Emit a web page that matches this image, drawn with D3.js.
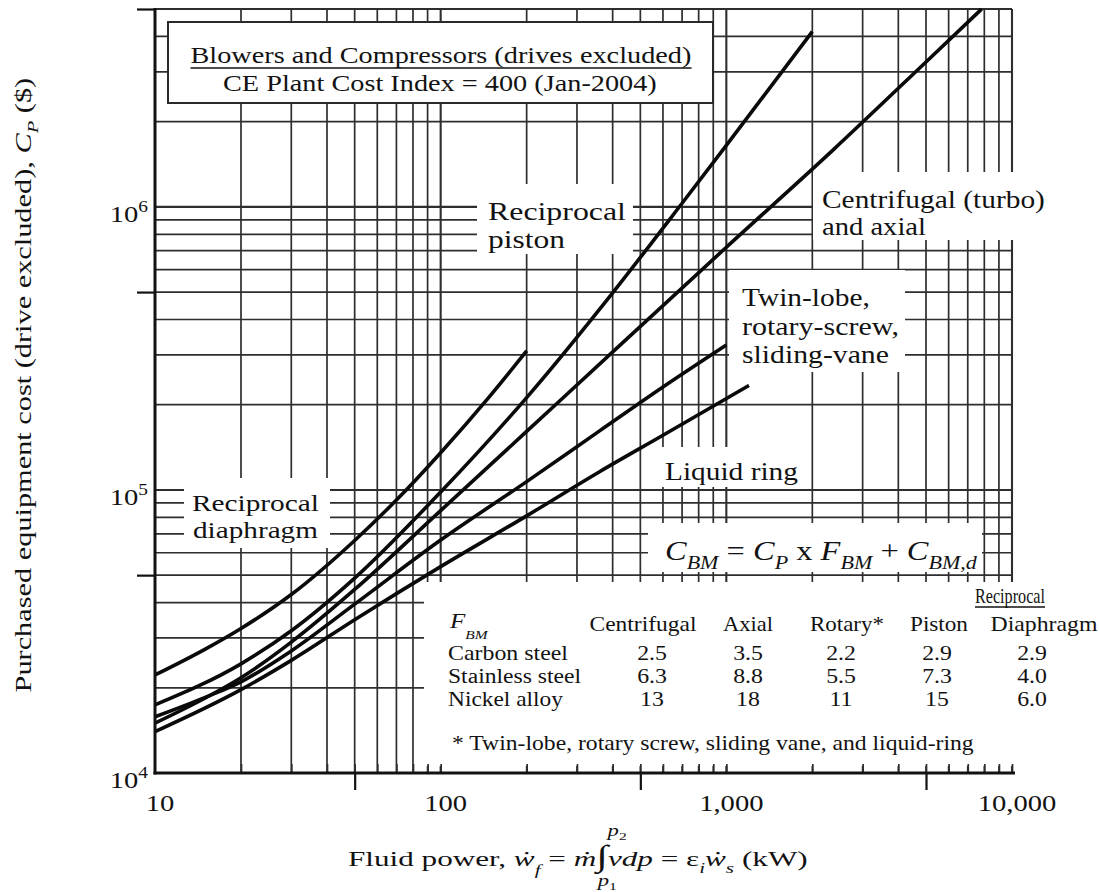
<!DOCTYPE html>
<html><head><meta charset="utf-8">
<script src="https://cdn.jsdelivr.net/npm/d3@7"></script>
<style>html,body{margin:0;padding:0;background:#fff;} svg{display:block;}</style>
</head><body>
<svg id="chart" width="1099" height="892"></svg>
<script>
// ---------------- data ----------------
const diaphragmKW     = [10, 15, 20, 30, 50, 70, 100, 150, 200];
const diaphragmCost   = [22200, 27400, 32400, 42700, 66300, 92100, 135400, 216800, 309700];
const pistonKW        = [10, 20, 30, 50, 100, 200, 400, 700, 1000, 2000];
const pistonCost      = [17400, 24300, 31800, 48800, 98300, 212000, 497000, 1030000, 1650000, 4160000];
const centrifugalKW   = [10, 15, 20, 30, 50, 100, 262, 1000, 2366, 5000, 7830];
const centrifugalCost = [15000, 18400, 21700, 29000, 44500, 84500, 207000, 720000, 1590000, 3250000, 5000000];
const rotaryKW        = [10, 15, 20, 30, 50, 100, 200, 361, 600, 1000];
const rotaryCost      = [15800, 18500, 21000, 27000, 39500, 66500, 107000, 162000, 231000, 325000];
const liquidRingKW    = [10, 20, 30, 50, 100, 200, 360, 600, 1200];
const liquidRingCost  = [14000, 19700, 25000, 34800, 53600, 81000, 116000, 156000, 234000];

const xTickValues = [10, 100, 1000, 10000];
const xTickLabels = ["10", "100", "1,000", "10,000"];
const yTickValues = [1e4, 1e5, 1e6];
const yTickExps   = ["4", "5", "6"];

const tableColumns   = ["Centrifugal", "Axial", "Rotary*", "Piston", "Diaphragm"];
const tableRows      = ["Carbon steel", "Stainless steel", "Nickel alloy"];
const fbmCarbon      = ["2.5", "3.5", "2.2", "2.9", "2.9"];
const fbmStainless   = ["6.3", "8.8", "5.5", "7.3", "4.0"];
const fbmNickel      = ["13", "18", "11", "15", "6.0"];

// ---------------- setup ----------------
const svg = d3.select('#chart');
const x = d3.scaleLog().domain([10, 10000]).range([155, 1012]);
const y = d3.scaleLog().domain([1e4, 5e6]).range([773, 9]);
const SERIF = 'Liberation Serif, Times New Roman, Times, serif';
const INK = '#121212', GRID = '#2e2e2e';

svg.append('rect').attr('width', 1099).attr('height', 892).attr('fill', '#fff');

function addText(parent, x0, y0, parts, o = {}) {
  const size = o.size || 20, anchor = o.anchor || 'start';
  const g = parent.append('g').attr('transform', `translate(${x0},${y0})` + (o.rotate ? ` rotate(${o.rotate})` : ''));
  const inner = g.append('g');
  const t = inner.append('text').attr('font-family', SERIF).attr('font-size', size).attr('fill', INK);
  if (o.italic) t.attr('font-style', 'italic');
  let shift = 0;
  (Array.isArray(parts) ? parts : [parts]).forEach(p => {
    if (typeof p === 'string') p = { t: p };
    const ts = t.append('tspan').text(p.t);
    if (p.italic) ts.attr('font-style', 'italic');
    const fs = p.size || ((p.sub || p.sup) ? size * 0.68 : null);
    if (fs) ts.attr('font-size', fs);
    const target = p.sub ? size * (p.subDy || 0.32) : p.sup ? -size * 0.42 : 0;
    if (target !== shift) { ts.attr('dy', target - shift); shift = target; }
  });
  const w = t.node().getComputedTextLength();
  const s = o.fit ? o.fit / w : (o.sx || 1.19);
  const dx = anchor === 'middle' ? -w / 2 : anchor === 'end' ? -w : 0;
  t.attr('x', dx);
  inner.attr('transform', `scale(${s},1)`);
  if (o.underline) {
    inner.append('line').attr('x1', dx).attr('x2', dx + w)
      .attr('y1', o.underline).attr('y2', o.underline)
      .attr('stroke', INK).attr('stroke-width', 1.5);
  }
  return { t, inner, w, s, dx };
}

// ---------------- grid ----------------
const gridX = [];
[10, 100, 1000].forEach(d => { for (let k = 2; k <= 10; k++) gridX.push(d * k); });
const gridY = [];
[1e4, 1e5, 1e6].forEach(d => { for (let k = 2; k <= 10; k++) { const v = d * k; if (v <= 5e6) gridY.push(v); } });
const majorX = new Set([100, 1000, 10000]);
const majorY = new Set([1e5, 1e6, 5e6]);

const grid = svg.append('g');
grid.selectAll('line.gx').data(gridX).join('line')
  .attr('x1', d => x(d)).attr('x2', d => x(d))
  .attr('y1', y(5e6)).attr('y2', y(1e4))
  .attr('stroke', GRID).attr('stroke-width', d => majorX.has(d) ? 2.1 : 1.7);
grid.selectAll('line.gy').data(gridY).join('line')
  .attr('x1', x(10)).attr('x2', x(10000))
  .attr('y1', d => y(d)).attr('y2', d => y(d))
  .attr('stroke', GRID).attr('stroke-width', d => majorY.has(d) ? 2.1 : 1.7);

// white areas where the original grid is interrupted by labels / table
const masks = [
  [477, 184, 633, 254],   // Reciprocal piston
  [813, 172, 1056, 240],  // Centrifugal (turbo) and axial
  [729, 270, 905, 372],   // Twin-lobe ...
  [660, 447, 806, 487],   // Liquid ring
  [184, 478, 330, 548],   // Reciprocal diaphragm
  [648, 523, 982, 572],   // formula
  [424, 582, 1099, 766]   // F_BM table
];
svg.append('g').selectAll('rect').data(masks).join('rect')
  .attr('x', d => d[0]).attr('y', d => d[1])
  .attr('width', d => d[2] - d[0]).attr('height', d => d[3] - d[1])
  .attr('fill', '#fff');

// ---------------- curves ----------------
const series = [
  [diaphragmKW, diaphragmCost],
  [pistonKW, pistonCost],
  [centrifugalKW, centrifugalCost],
  [rotaryKW, rotaryCost],
  [liquidRingKW, liquidRingCost]
];
const line = d3.line().x(d => x(d[0])).y(d => y(d[1])).curve(d3.curveMonotoneX);
svg.append('g').selectAll('path').data(series.map(s => s[0].map((v, i) => [v, s[1][i]])))
  .join('path').attr('d', line)
  .attr('fill', 'none').attr('stroke', '#0a0a0a').attr('stroke-width', 3.6)
  .attr('stroke-linecap', 'butt');

// ---------------- axes ----------------
const ax = svg.append('g');
ax.append('g').attr('transform', `translate(0,${y(1e4)})`)
  .call(d3.axisBottom(x).tickValues(gridX).tickSize(-9).tickFormat(''))
  .call(g => g.select('.domain').remove())
  .call(g => g.selectAll('line').attr('stroke', GRID).attr('stroke-width', 1.7));
ax.append('g').attr('transform', `translate(0,${y(1e4)})`)
  .call(d3.axisBottom(x).tickValues([50, 500, 5000]).tickSize(17).tickFormat(''))
  .call(g => g.select('.domain').remove())
  .call(g => g.selectAll('line').attr('stroke', INK).attr('stroke-width', 2.2));
ax.append('g').attr('transform', `translate(${x(10)},0)`)
  .call(d3.axisLeft(y).tickValues([5e4, 5e5, 5e6]).tickSize(18).tickFormat(''))
  .call(g => g.select('.domain').remove())
  .call(g => g.selectAll('line').attr('stroke', INK).attr('stroke-width', 2.2));
ax.append('line').attr('x1', x(10)).attr('x2', x(10)).attr('y1', y(5e6) - 1).attr('y2', y(1e4) + 1.4)
  .attr('stroke', INK).attr('stroke-width', 3);
ax.append('line').attr('x1', x(10) - 1.5).attr('x2', x(10000) + 3).attr('y1', y(1e4)).attr('y2', y(1e4))
  .attr('stroke', INK).attr('stroke-width', 3);

// tick labels
xTickValues.forEach((v, i) => addText(svg, x(v) + 5, 811, xTickLabels[i], { size: 24, anchor: 'middle' }));
yTickValues.forEach((v, i) => addText(svg, 148, y(v) + 15, ["10", { t: yTickExps[i], sup: true }], { size: 24, anchor: 'end' }));

// axis titles
addText(svg, 31, 385, ["Purchased equipment cost (drive excluded), ", { t: "C", italic: true }, { t: "P", italic: true, sub: true }, " ($)"],
  { size: 23, anchor: 'middle', rotate: -90, fit: 615 });
const xt = addText(svg, 578, 866, ["Fluid power, ", { t: "ẇ", italic: true }, { t: "f", italic: true, sub: true, subDy: 0.4 }, " = ",
  { t: "ṁ", italic: true }, { t: "∫", size: 30 }, { t: "vdp", italic: true }, " = ε", { t: "i", italic: true, sub: true },
  { t: "ẇ", italic: true }, { t: "s", italic: true, sub: true }, " (kW)"], { size: 22, anchor: 'middle', fit: 460 });
{
  const p = xt.t.node().getStartPositionOfChar(19);
  const lim = (str, dx, dy) => {
    const tt = xt.inner.append('text').attr('x', p.x + dx).attr('y', dy).attr('font-family', SERIF)
      .attr('font-size', 16).attr('fill', INK);
    tt.append('tspan').attr('font-style', 'italic').text('p');
    tt.append('tspan').attr('font-size', 11).attr('dy', 4).text(str);
  };
  lim('2', 8, -30);
  lim('1', 1, 20);
}

// ---------------- title box ----------------
svg.append('rect').attr('x', 168).attr('y', 22).attr('width', 713 - 168).attr('height', 103 - 22)
  .attr('fill', '#fff').attr('stroke', '#2a2a2a').attr('stroke-width', 2);
addText(svg, 441, 63, "Blowers and Compressors (drives excluded)", { size: 24, anchor: 'middle', fit: 501, underline: 5 });
addText(svg, 440, 91, "CE Plant Cost Index = 400 (Jan-2004)", { size: 24, anchor: 'middle', fit: 434 });

// ---------------- curve labels ----------------
addText(svg, 488, 220, "Reciprocal", { size: 25, fit: 138 });
addText(svg, 488, 248, "piston", { size: 25, fit: 77 });
addText(svg, 822, 208, "Centrifugal (turbo)", { size: 25, fit: 223 });
addText(svg, 822, 235, "and axial", { size: 25, fit: 104 });
addText(svg, 742, 306, "Twin-lobe,", { size: 25, fit: 128 });
addText(svg, 742, 335, "rotary-screw,", { size: 25, fit: 157 });
addText(svg, 742, 363, "sliding-vane", { size: 25, fit: 147 });
addText(svg, 665, 480, "Liquid ring", { size: 25, fit: 133 });
addText(svg, 192, 511, "Reciprocal", { size: 24, fit: 127 });
addText(svg, 193, 538, "diaphragm", { size: 24, fit: 125 });

// ---------------- formula ----------------
addText(svg, 665, 560, [{ t: "C", italic: true }, { t: "BM", italic: true, sub: true }, " = ", { t: "C", italic: true },
  { t: "P", italic: true, sub: true }, "  x ", { t: "F", italic: true }, { t: "BM", italic: true, sub: true }, " + ",
  { t: "C", italic: true }, { t: "BM,d", italic: true, sub: true }], { size: 27, fit: 312 });

// ---------------- F_BM table ----------------
const colCenters = [643, 748, 847, 939, 1044];
const valCenters = [652, 748, 841, 937, 1032];
const colWidths = [107, 50, 74, 58, 107];
addText(svg, 1010, 603, "Reciprocal", { size: 20, anchor: 'middle', fit: 70, underline: 4 });
addText(svg, 450, 628, [{ t: "F", italic: true }, { t: "BM", italic: true, sub: true, subDy: 0.5, size: 13 }], { size: 21 });
tableColumns.forEach((c, i) => addText(svg, colCenters[i], 631, c, { size: 20, anchor: 'middle', fit: colWidths[i] }));
const rowVals = [fbmCarbon, fbmStainless, fbmNickel];
const rowWidths = [120, 133, 115];
tableRows.forEach((r, j) => {
  const by = 660 + j * 23;
  addText(svg, 448, by, r, { size: 20, fit: rowWidths[j] });
  rowVals[j].forEach((v, i) => addText(svg, valCenters[i], by, v, { size: 20, anchor: 'middle' }));
});
addText(svg, 452, 750, "* Twin-lobe, rotary screw, sliding vane, and liquid-ring", { size: 20, fit: 522 });
</script>
</body></html>
